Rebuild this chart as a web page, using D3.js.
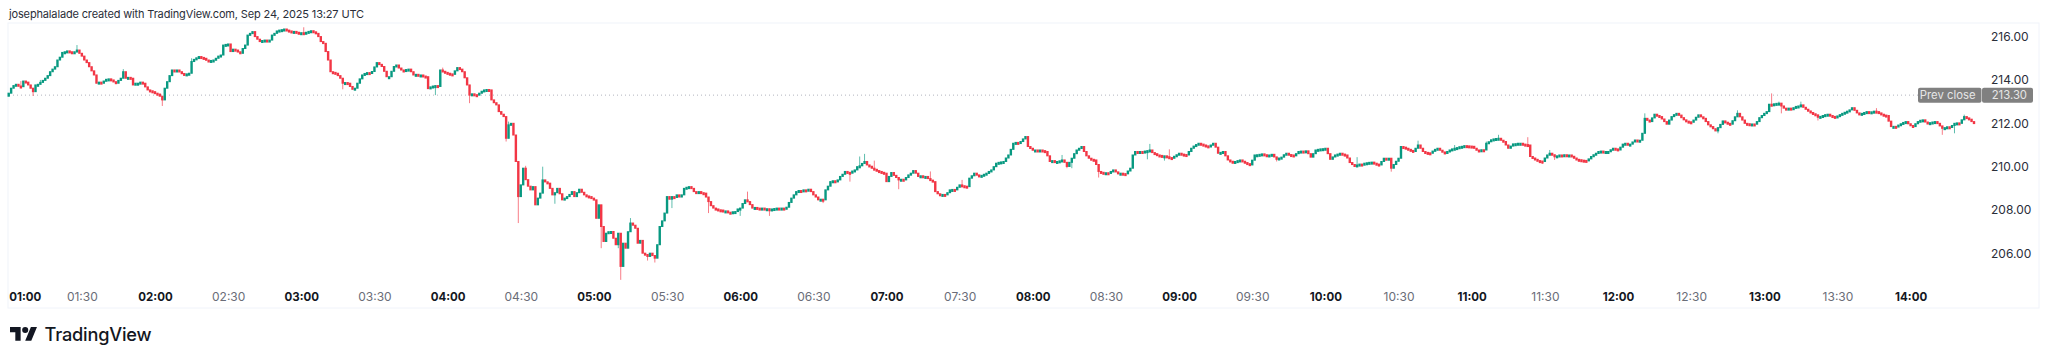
<!DOCTYPE html>
<html>
<head>
<meta charset="utf-8">
<script src="https://cdn.jsdelivr.net/npm/d3@7"></script>
<style>
    html, body { margin: 0; padding: 0; background: #fff; }
    svg { display: block; }
    text { font-family: Inter, "Noto Sans", sans-serif; }
</style>
</head>
<body>
<script>
// one row per half hour of 1 minute bars, first bar is 01:00
const closes = [
    213.39,213.62,213.74,213.80,213.72,213.69,213.95,213.90,213.77,213.62,213.46,213.77,213.80,213.89,213.98,214.08,214.20,214.38,214.50,214.61,214.92,215.05,215.27,215.30,215.34,215.30,215.23,215.30,215.38,215.23,
    215.10,214.92,214.80,214.61,214.42,214.23,213.85,213.90,213.85,213.95,214.03,214.05,214.00,213.92,213.85,213.98,214.08,214.38,214.08,214.12,214.08,213.77,213.85,213.85,213.90,213.85,213.68,213.54,213.50,213.46,
    213.39,213.35,213.25,213.08,213.62,213.92,214.20,214.46,214.40,214.46,214.38,214.30,214.23,214.28,214.31,214.85,214.95,215.02,215.08,215.04,215.00,214.92,214.85,214.90,214.92,215.00,215.10,215.15,215.61,215.64,
    215.66,215.31,215.42,215.38,215.30,215.23,215.45,215.61,216.07,216.15,216.23,216.00,215.88,215.77,215.82,215.84,215.80,215.84,216.07,216.15,216.26,216.30,216.32,216.35,216.30,216.26,216.22,216.24,216.20,216.15,
    216.18,216.16,216.20,216.24,216.27,216.22,216.15,216.00,215.77,215.69,215.31,214.92,214.38,214.35,214.31,214.20,214.08,213.85,213.88,213.85,213.70,213.57,213.62,213.85,214.05,214.23,214.30,214.34,214.30,214.39,
    214.60,214.80,214.72,214.62,214.40,214.15,214.15,214.40,214.62,214.69,214.55,214.46,214.42,214.48,214.50,214.38,214.23,214.26,214.22,214.23,214.18,214.15,213.60,213.68,213.72,213.74,213.70,214.46,214.40,214.35,
    214.31,214.28,214.26,214.42,214.57,214.50,214.38,214.10,213.77,213.30,213.36,213.32,213.30,213.39,213.48,213.54,213.56,213.54,213.08,212.95,212.85,212.54,212.42,212.31,211.31,211.93,212.00,211.46,210.24,208.62,
    209.16,209.93,209.40,209.10,208.93,209.08,208.24,208.55,208.78,209.39,209.30,209.24,209.00,208.70,208.80,209.00,208.75,208.47,208.55,208.62,208.72,208.85,208.62,208.80,208.96,208.82,208.70,208.65,208.62,208.55,
    208.47,207.62,208.24,207.24,206.55,206.93,207.00,207.01,206.70,206.40,206.93,205.40,206.47,206.24,207.00,207.40,207.30,207.16,206.47,206.60,206.01,205.95,205.86,206.01,205.90,205.78,206.40,207.24,207.50,207.86,
    208.62,208.50,208.62,208.58,208.70,208.60,208.70,209.00,209.05,209.08,209.00,208.85,208.80,208.85,208.80,208.78,208.60,208.39,208.20,208.09,208.05,208.01,208.00,207.95,207.96,207.90,207.86,207.92,207.93,208.05,
    208.09,208.30,208.47,208.39,208.25,208.09,208.12,208.09,208.05,208.09,208.02,208.06,208.01,208.05,208.07,208.09,208.05,208.09,208.04,208.13,208.35,208.55,208.70,208.85,208.90,208.88,208.93,208.90,208.96,208.85,
    208.70,208.60,208.47,208.50,208.47,208.93,209.10,209.31,209.35,209.30,209.39,209.55,209.65,209.78,209.74,209.70,209.80,209.85,210.00,210.04,210.15,210.24,210.08,210.02,209.93,209.88,209.82,209.78,209.74,209.70,
    209.31,209.55,209.73,209.60,209.50,209.39,209.42,209.39,209.50,209.62,209.70,209.82,209.70,209.55,209.58,209.52,209.55,209.45,209.38,209.31,208.85,208.75,208.67,208.72,208.70,208.80,208.93,208.95,208.93,209.05,
    209.16,209.12,209.10,209.08,209.47,209.58,209.70,209.62,209.55,209.60,209.65,209.70,209.78,209.85,210.00,210.16,210.20,210.22,210.24,210.40,210.54,210.80,211.08,211.12,211.10,211.16,211.28,211.39,210.93,210.85,
    210.77,210.77,210.74,210.77,210.74,210.70,210.50,210.24,210.28,210.22,210.24,210.27,210.31,210.20,210.01,210.20,210.39,210.60,210.77,210.85,210.93,210.70,210.50,210.39,210.34,210.31,210.10,209.78,209.74,209.70,
    209.72,209.70,209.78,209.85,209.76,209.67,209.70,209.68,209.67,209.80,209.93,210.54,210.70,210.68,210.70,210.69,210.72,210.74,210.77,210.65,210.60,210.54,210.52,210.50,210.50,210.46,210.42,210.39,210.48,210.55,
    210.62,210.58,210.56,210.54,210.70,210.85,210.95,211.02,211.08,211.04,211.00,210.96,210.93,211.00,211.08,210.90,210.62,210.66,210.70,210.50,210.31,210.25,210.19,210.24,210.28,210.31,210.25,210.19,210.14,210.08,
    210.30,210.54,210.55,210.57,210.59,210.55,210.50,210.54,210.57,210.45,210.34,210.40,210.44,210.55,210.62,210.56,210.54,210.50,210.60,210.70,210.72,210.71,210.73,210.60,210.44,210.60,210.77,210.80,210.82,210.83,
    210.85,210.60,210.34,210.45,210.54,210.58,210.62,210.58,210.54,210.40,210.19,210.10,210.04,210.08,210.12,210.10,210.16,210.18,210.20,210.21,210.16,210.12,210.08,210.24,210.39,210.38,210.39,209.93,210.10,210.25,
    210.39,210.93,210.90,210.85,210.80,210.75,210.70,210.85,211.00,210.85,210.70,210.66,210.64,210.62,210.72,210.80,210.85,210.76,210.68,210.62,210.70,210.77,210.82,210.85,210.88,210.92,210.94,210.97,210.96,210.95,
    210.94,210.85,210.77,210.75,210.78,210.77,211.08,211.15,211.24,211.28,211.30,211.31,211.22,211.16,211.00,210.85,210.95,211.05,211.06,211.08,211.08,211.04,211.02,211.00,210.47,210.40,210.34,210.28,210.26,210.24,
    210.40,210.54,210.62,210.55,210.47,210.50,210.54,210.52,210.55,210.54,210.54,210.48,210.40,210.34,210.32,210.30,210.29,210.28,210.36,210.47,210.55,210.62,210.70,210.72,210.69,210.70,210.70,210.78,210.85,210.82,
    210.77,210.90,211.04,211.08,211.02,211.04,211.14,211.23,211.18,211.22,211.54,212.23,212.15,212.08,212.25,212.42,212.36,212.31,212.20,212.08,211.96,212.15,212.31,212.40,212.46,212.38,212.26,212.16,212.10,212.07,
    212.05,212.15,212.28,212.39,212.30,212.23,212.08,211.93,211.85,211.75,211.65,211.80,211.95,212.11,212.05,212.00,211.96,212.12,212.30,212.46,212.30,212.15,212.00,211.98,211.96,211.97,211.96,212.08,212.26,212.36,
    212.46,212.54,212.88,212.85,212.90,212.92,212.93,212.80,212.70,212.68,212.70,212.66,212.72,212.78,212.80,212.85,212.74,212.65,212.57,212.50,212.44,212.39,212.28,212.32,212.36,212.40,212.42,212.36,212.32,212.28,
    212.34,212.40,212.46,212.51,212.56,212.62,212.72,212.60,212.48,212.39,212.46,212.50,212.54,212.52,212.53,212.56,212.54,212.48,212.42,212.38,212.36,212.10,211.85,211.86,211.85,211.92,211.98,212.04,212.08,211.98,
    211.90,211.85,211.98,212.08,212.14,212.16,212.06,212.00,212.03,212.06,212.08,212.00,211.88,211.77,211.80,211.84,211.82,211.90,212.00,212.02,212.00,212.16,212.31,212.25,212.19,212.08,212.00
];

// the wicks that can be seen, [minute, price]
const highWicks = [
    [5,213.95],[13,214.0],[28,215.61],[47,214.5],[75,215.0],[121,216.43],[178,214.57],[205,212.08],[212,210.04],[219,210.0],[255,207.63],[303,208.85],
    [349,210.47],[351,210.59],[355,210.28],[378,209.78],[391,209.39],[432,210.54],[468,211.05],[476,210.8],[553,210.44],[578,211.2],[593,211.0],[606,211.16],
    [611,211.47],[623,211.36],[632,210.77],[671,212.46],[709,212.6],[723,213.38],[726,213.0],[735,213.0],[766,212.7],[802,212.4]
];
const lowWicks = [
    [10,213.26],[63,212.80],[137,213.57],[175,213.3],[189,212.93],[204,211.16],[209,207.4],[224,208.29],[243,206.24],[250,206.24],[251,204.78],[262,205.67],
    [265,205.58],[272,208.09],[287,207.86],[300,207.73],[312,207.73],[334,208.32],[345,209.31],[365,208.96],[434,209.93],[436,209.93],[447,209.5],[467,210.34],
    [474,210.28],[520,210.24],[567,209.77],[629,210.13],[634,210.31],[701,211.54],[727,212.46],[742,212.13],[793,211.47],[798,211.54]
];

const priceTicks = [206, 208, 210, 212, 214, 216];
const timeTicks = ["01:00","01:30","02:00","02:30","03:00","03:30","04:00","04:30","05:00","05:30","06:00","06:30","07:00","07:30",
    "08:00","08:30","09:00","09:30","10:00","10:30","11:00","11:30","12:00","12:30","13:00","13:30","14:00"];
const prevClose = 213.30;
const title = "josephalalade created with TradingView.com, Sep 24, 2025 13:27 UTC";

const svgWidth = 2048;
const svgHeight = 362;
const pane = {left: 8, right: 2039, top: 23, bottom: 308};

const upColor = "#089981";
const downColor = "#f23645";

window.onload = main;

function main() {
    const svg = d3.select("body")
        .append("svg")
        .attr("width", svgWidth)
        .attr("height", svgHeight);

    const x = d3.scaleLinear().domain([0, 780]).range([8.7, 8.7 + 13 * 146.3]);
    const y = d3.scaleLinear().domain([206, 216]).range([253.4, 36.6]);

    svg.append("text")
        .text(title)
        .attr("x", 9)
        .attr("y", 18)
        .attr("fill", "#2a2e39")
        .style("font-size", "11px")
        .style("letter-spacing", "-0.15px");

    // pane border
    svg.append("rect")
        .attr("x", pane.left)
        .attr("y", pane.top)
        .attr("width", pane.right - pane.left)
        .attr("height", pane.bottom - pane.top)
        .attr("fill", "none")
        .attr("stroke", "#f0f3fa");

    draw_prev_close(svg, y);
    draw_candles(svg, x, y);
    draw_axes(svg, x, y);
    draw_logo(svg);
}

function draw_prev_close(svg, y) {
    svg.append("line")
        .attr("x1", 9)
        .attr("x2", 1918)
        .attr("y1", y(prevClose))
        .attr("y2", y(prevClose))
        .attr("stroke", "#b2b5be")
        .attr("stroke-dasharray", "1 3");

    const boxes = [
        {x: 1918, w: 63.5, label: "Prev close"},
        {x: 1982, w: 51, label: prevClose.toFixed(2)}
    ];
    const g = svg.append("g").selectAll("g").data(boxes).join("g");
    g.append("rect")
        .attr("x", d => d.x)
        .attr("y", y(prevClose) - 7.5)
        .attr("width", d => d.w)
        .attr("height", 15)
        .attr("rx", 2)
        .attr("fill", "#808080");
    g.append("text")
        .text(d => d.label)
        .attr("x", d => d.x + d.w - 6)
        .attr("y", y(prevClose) + 4)
        .attr("text-anchor", "end")
        .attr("fill", "#e6e6e6")
        .style("font-size", "11.3px");
}

function draw_candles(svg, x, y) {
    const bars = closes.map((c, i) => {
        const open = i === 0 ? 213.25 : closes[i - 1];
        return {i: i, open: open, close: c, high: Math.max(open, c), low: Math.min(open, c)};
    });
    highWicks.forEach(([m, p]) => { bars[m].high = Math.max(bars[m].high, p); });
    lowWicks.forEach(([m, p]) => { bars[m].low = Math.min(bars[m].low, p); });

    const color = d => d.close >= d.open ? upColor : downColor;
    const g = svg.append("g").style("filter", "blur(0.35px)");

    g.selectAll("line")
        .data(bars)
        .join("line")
        .attr("x1", d => x(d.i))
        .attr("x2", d => x(d.i))
        .attr("y1", d => y(d.high))
        .attr("y2", d => y(d.low))
        .attr("stroke", color)
        .attr("stroke-opacity", 0.65);

    g.selectAll("rect")
        .data(bars)
        .join("rect")
        .attr("x", d => x(d.i) - 1.2)
        .attr("width", 2.4)
        .attr("y", d => Math.min(y(d.open), y(d.close)) - 0.5)
        .attr("height", d => Math.max(3, Math.abs(y(d.open) - y(d.close)) + 1))
        .attr("fill", color);
}

function draw_axes(svg, x, y) {
    const priceAxis = d3.axisRight(y)
        .tickValues(priceTicks)
        .tickFormat(d3.format(".2f"))
        .tickSize(0)
        .tickPadding(0);
    const priceG = svg.append("g")
        .attr("transform", "translate(1991,0)")
        .call(priceAxis);
    priceG.select(".domain").remove();
    priceG.selectAll("text")
        .attr("fill", "#2a2e39")
        .style("font-size", "12px");

    const minutes = timeTicks.map((d, i) => i * 30);
    const timeAxis = d3.axisBottom(x)
        .tickValues(minutes)
        .tickFormat((d, i) => timeTicks[i])
        .tickSize(0)
        .tickPadding(0);
    const timeG = svg.append("g")
        .attr("transform", "translate(0,288)")
        .call(timeAxis);
    timeG.select(".domain").remove();
    timeG.selectAll("text")
        .attr("dy", 0)
        .attr("y", 13)
        .attr("fill", (d, i) => i % 2 === 0 ? "#131722" : "#6a6d78")
        .style("font-weight", (d, i) => i % 2 === 0 ? 700 : 400)
        .style("font-size", (d, i) => i % 2 === 0 ? "11.5px" : "12px");
    // the first label can't be centred on the chart edge
    timeG.selectAll("text")
        .filter((d, i) => i === 0)
        .attr("text-anchor", "start");
}

function draw_logo(svg) {
    const logo = svg.append("g")
        .attr("transform", "translate(10,324) scale(0.76)")
        .attr("fill", "#131722");
    logo.append("path").attr("d", "M14 22H7V11H0V4h14v18zM28 22h-8l7.5-18h8L28 22z");
    logo.append("circle").attr("cx", 20).attr("cy", 8).attr("r", 4);

    svg.append("text")
        .text("TradingView")
        .attr("x", 44.5)
        .attr("y", 341)
        .attr("fill", "#131722")
        .style("font-size", "18.2px")
        .style("font-weight", 500)
        .style("letter-spacing", "-0.2px");
}
</script>
</body>
</html>
